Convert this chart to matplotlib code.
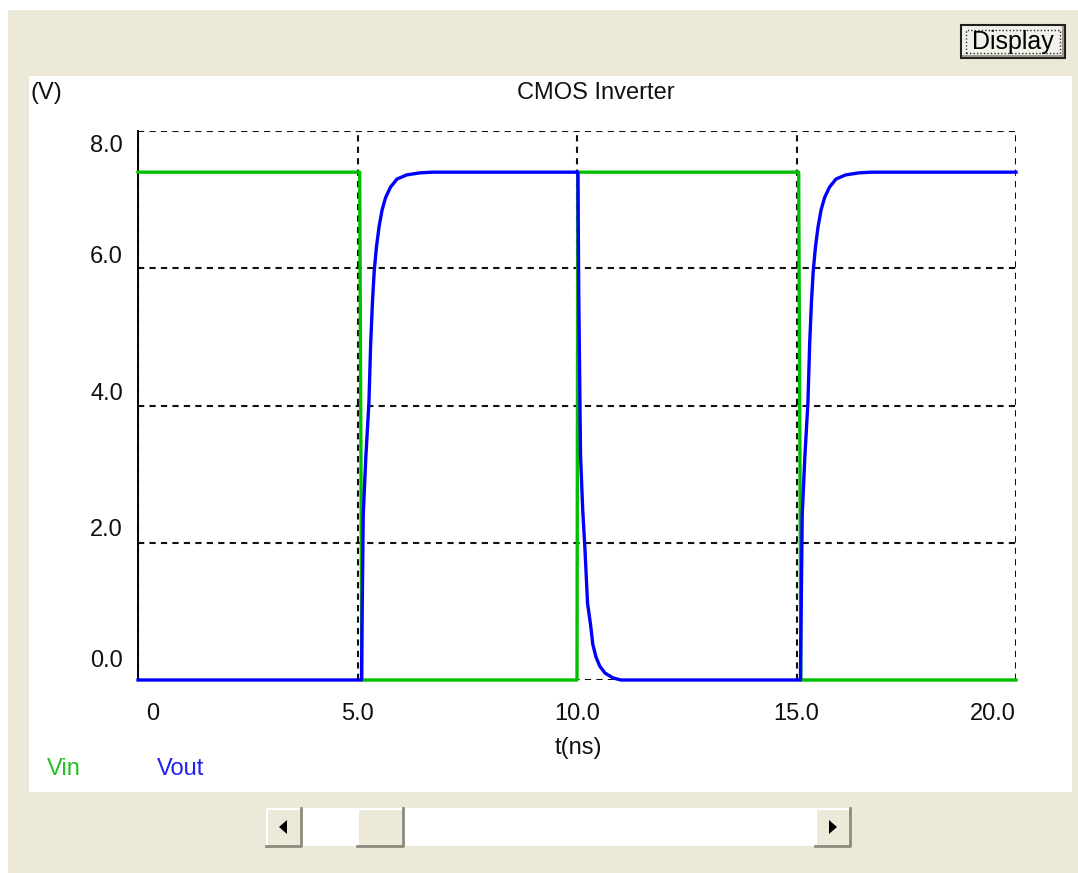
import matplotlib
matplotlib.use("Agg")
import matplotlib.pyplot as plt
from matplotlib.patches import Rectangle, Polygon
from matplotlib.transforms import ScaledTranslation, blended_transform_factory

# Vin: input square wave (V vs ns)
vin_t = [0.0, 5.05, 5.10, 10.0, 10.02, 15.05, 15.10, 20.0]
vin_v = [7.4, 7.4, 0.0, 0.0, 7.4, 7.4, 0.0, 0.0]

# Vout: inverter output
vout_t = [0.0, 5.09, 5.13, 5.19, 5.26, 5.30, 5.34, 5.38, 5.43, 5.49, 5.56, 5.64, 5.75, 5.90, 6.12, 6.42, 6.70,
          10.02, 10.04, 10.08, 10.13, 10.18, 10.24, 10.31, 10.36, 10.43, 10.52, 10.64, 10.82, 11.00,
          15.09, 15.13, 15.19, 15.26, 15.30, 15.34, 15.38, 15.43, 15.49, 15.56, 15.64, 15.75, 15.90, 16.12, 16.42,
          16.70, 20.0]
vout_v = [0.0, 0.0, 2.40, 3.25, 4.04, 4.90, 5.50, 5.95, 6.30, 6.60, 6.85, 7.03, 7.18, 7.30, 7.36, 7.39, 7.40,
          7.40, 5.60, 3.28, 2.48, 1.92, 1.12, 0.80, 0.52, 0.34, 0.20, 0.10, 0.03, 0.0,
          0.0, 2.40, 3.25, 4.04, 4.90, 5.50, 5.95, 6.30, 6.60, 6.85, 7.03, 7.18, 7.30, 7.36, 7.39,
          7.40, 7.40]

xticks = [0, 5, 10, 15, 20]
xtick_labels = ["0", "5.0", "10.0", "15.0", "20.0"]
yticks = [0, 2, 4, 6, 8]
ytick_labels = ["0.0", "2.0", "4.0", "6.0", "8.0"]

W, H = 1078, 873
BEIGE = "#ECE9D8"
GREEN = "#00C000"
BLUE = "#0000FF"
FONT = "Liberation Sans"
FS = 17

fig = plt.figure(figsize=(W / 100, H / 100), dpi=100)
fig.patch.set_facecolor("white")


def fx(x):
    return x / W


def fy(y):
    return 1 - y / H


def rect(x0, y0, x1, y1, z=-5, **kw):
    p = Rectangle((fx(x0), fy(y1)), (x1 - x0) / W, (y1 - y0) / H,
                  transform=fig.transFigure, zorder=z, **kw)
    fig.patches.append(p)


def line(xs, ys, **kw):
    fig.add_artist(plt.Line2D([fx(x) for x in xs], [fy(y) for y in ys],
                              transform=fig.transFigure, **kw))


# window background and white plot panel
rect(8, 10, W, H, facecolor=BEIGE, edgecolor="none", z=-10)
rect(29, 76, 1072, 792, facecolor="white", edgecolor="none", z=-9)

# Display button
rect(961, 25, 1065, 58, facecolor="#F2F1EA", edgecolor="#202020", linewidth=1.5)
line([963, 1063, 1063], [56, 56, 27], color="#9A9A90", linewidth=1.5, zorder=-4)
rect(966, 30, 1060, 53, facecolor="none", edgecolor="#303030", linewidth=1.0,
     linestyle=(0, (1, 1.5)), z=-3)
fig.text(fx(1013), fy(42), "Display", ha="center", va="center",
         fontsize=18, family=FONT, color="black")

# scrollbar
rect(266, 808, 851, 846, facecolor="white", edgecolor="none")
for x0, x1 in [(266, 302), (357, 404), (815, 851)]:
    rect(x0, 808, x1, 846, facecolor=BEIGE, edgecolor="none", z=-4)
    line([x0 + 1, x0 + 1, x1 - 1], [845, 809, 809], color="white", linewidth=1.5, zorder=-3)
    line([x0, x1 - 1, x1 - 1], [846, 846, 808], color="#8E8B7E", linewidth=2, zorder=-3)
for pts in ([(279, 827), (287, 820), (287, 834)], [(837, 827), (829, 820), (829, 834)]):
    fig.add_artist(Polygon([(fx(x), fy(y)) for x, y in pts], closed=True,
                           transform=fig.transFigure, facecolor="black", edgecolor="none"))

# plot area
ax = fig.add_axes([fx(138), fy(680), (1016 - 138) / W, (680 - 131) / H])
ax.set_facecolor("none")
ax.set_xlim(0, 20)
ax.set_ylim(0, 8)
for s in ["top", "right", "bottom"]:
    ax.spines[s].set_visible(False)
ax.spines["left"].set_color("black")
ax.spines["left"].set_linewidth(1.4)
ax.set_xticks(xticks)
ax.set_yticks(yticks)
ax.tick_params(length=0, labelbottom=False, labelleft=False)
ax.set_axisbelow(True)
ax.grid(True, color="#111111", linestyle=(0, (3, 2.5)), linewidth=1.5)

ax.plot(vin_t, vin_v, color=GREEN, linewidth=2.4, clip_on=False, zorder=3)
ax.plot(vout_t, vout_v, color=BLUE, linewidth=2.4, clip_on=False, zorder=4)

# y tick labels (pixel offsets as in the original widget)
ytr = blended_transform_factory(ax.transAxes, ax.transData)
ydy = [19, 13, 11, 11, -15]
for v, lab, dy in zip(yticks, ytick_labels, ydy):
    ax.text(0, v, lab, ha="right", va="center", fontsize=FS, family=FONT, color="#111111",
            transform=ytr + ScaledTranslation(-15 / 100, dy / 100, fig.dpi_scale_trans))

# x tick labels
xtr = blended_transform_factory(ax.transData, ax.transAxes)
xha = ["left", "center", "center", "center", "right"]
xdx = [8, 0, 0, 0, 0]
for v, lab, ha, dx in zip(xticks, xtick_labels, xha, xdx):
    ax.text(v, 0, lab, ha=ha, va="center", fontsize=FS, family=FONT, color="#111111",
            transform=xtr + ScaledTranslation(dx / 100, -34 / 100, fig.dpi_scale_trans))

# titles / labels
fig.text(fx(596), fy(93), "CMOS Inverter", ha="center", va="center", fontsize=FS, family=FONT,
         color="#111111")
fig.text(fx(30), fy(93), "(V)", ha="left", va="center", fontsize=FS, family=FONT, color="#111111")
fig.text(fx(578), fy(748), "t(ns)", ha="center", va="center", fontsize=FS, family=FONT,
         color="#111111")
fig.text(fx(47), fy(769), "Vin", ha="left", va="center", fontsize=FS, family=FONT, color="#22C022")
fig.text(fx(157), fy(769), "Vout", ha="left", va="center", fontsize=FS, family=FONT, color="#2020F0")

fig.savefig("out.png", dpi=100)
